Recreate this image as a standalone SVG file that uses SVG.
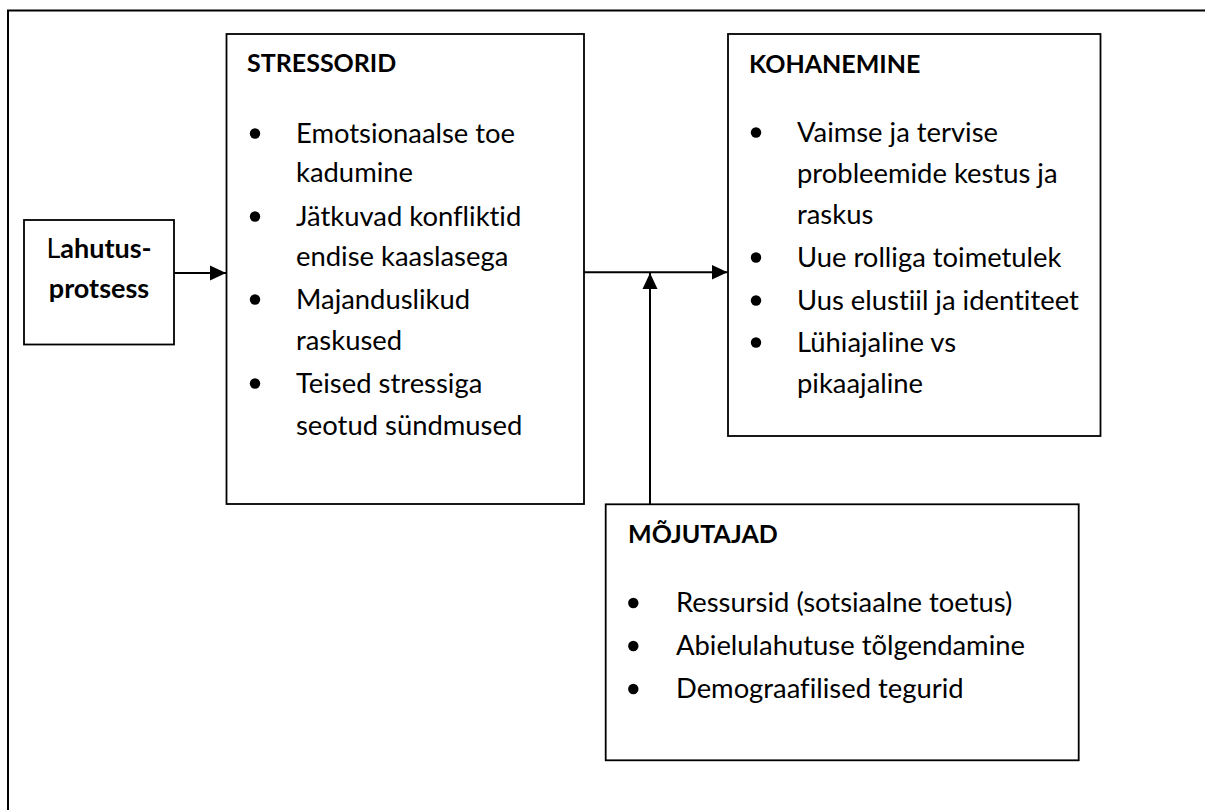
<svg xmlns="http://www.w3.org/2000/svg" width="1205" height="810" viewBox="0 0 1205 810">
<style>
  .frame { fill: none; stroke: #000; stroke-width: 2; }
  .box { fill: #fff; stroke: #000; stroke-width: 1.8; }
  text { font-family: Lato, "Open Sans", "Liberation Sans", sans-serif; fill: #000; font-variant-ligatures: none; font-feature-settings: "liga" 0, "clig" 0, "dlig" 0; }
  .t { font-size: 27.4px; }
  .h { font-size: 25px; font-weight: bold; }
  .lh { font-size: 27px; font-weight: bold; }
  .dot { fill: #000; }
  .line { fill: none; stroke: #000; stroke-width: 2; }
</style>
<defs>
  <marker id="arr" markerWidth="16" markerHeight="16" viewBox="0 0 16 16" refX="16" refY="8" orient="auto" markerUnits="userSpaceOnUse">
    <path d="M0,0.5 L16,8 L0,15.5 Z" fill="#000"/>
  </marker>
</defs>
<rect width="1205" height="810" fill="#fff"/>
<path class="frame" d="M8,810 L8,10.5 L1205,10.5"/>

<g id="lahutus">
  <rect class="box" x="24" y="220" width="150" height="124.5"/>
  <text class="lh" x="99" y="258" text-anchor="middle"><tspan font-weight="normal">L</tspan>ahutus-</text>
  <text class="lh" x="99" y="298" text-anchor="middle">protsess</text>
</g>

<g id="stressorid">
  <rect class="box" x="226.5" y="34" width="357.5" height="470"/>
  <text class="h" x="247" y="72">STRESSORID</text>
  <circle class="dot" cx="255" cy="133.5" r="5.2"/>
  <text class="t" x="296" y="143">Emotsionaalse toe</text>
  <text class="t" x="296" y="182">kadumine</text>
  <circle class="dot" cx="255" cy="216.5" r="5.2"/>
  <text class="t" x="296" y="226">Jätkuvad konfliktid</text>
  <text class="t" x="296" y="266">endise kaaslasega</text>
  <circle class="dot" cx="255" cy="299.5" r="5.2"/>
  <text class="t" x="296" y="309">Majanduslikud</text>
  <text class="t" x="296" y="350">raskused</text>
  <circle class="dot" cx="255" cy="383.5" r="5.2"/>
  <text class="t" x="296" y="393">Teised stressiga</text>
  <text class="t" x="296" y="435">seotud sündmused</text>
</g>

<g id="kohanemine">
  <rect class="box" x="728" y="34" width="372.5" height="402"/>
  <text class="h" x="749" y="73">KOHANEMINE</text>
  <circle class="dot" cx="756" cy="132.5" r="5.2"/>
  <text class="t" x="797" y="142">Vaimse ja tervise</text>
  <text class="t" x="797" y="183">probleemide kestus ja</text>
  <text class="t" x="797" y="224">raskus</text>
  <circle class="dot" cx="756" cy="257.5" r="5.2"/>
  <text class="t" x="797" y="267">Uue rolliga toimetulek</text>
  <circle class="dot" cx="756" cy="300.5" r="5.2"/>
  <text class="t" x="797" y="310">Uus elustiil ja identiteet</text>
  <circle class="dot" cx="756" cy="342.5" r="5.2"/>
  <text class="t" x="797" y="352">Lühiajaline vs</text>
  <text class="t" x="797" y="393">pikaajaline</text>
</g>

<g id="mojutajad">
  <rect class="box" x="605.7" y="504.3" width="473" height="256"/>
  <text class="h" x="628" y="543">MÕJUTAJAD</text>
  <circle class="dot" cx="633.3" cy="603" r="5.2"/>
  <text class="t" x="676" y="612">Ressursid (sotsiaalne toetus)</text>
  <circle class="dot" cx="633.3" cy="646" r="5.2"/>
  <text class="t" x="676" y="655">Abielulahutuse tõlgendamine</text>
  <circle class="dot" cx="633.3" cy="689" r="5.2"/>
  <text class="t" x="676" y="698">Demograafilised tegurid</text>
</g>

<g id="connectors">
  <line class="line" x1="174" y1="273" x2="226" y2="273" marker-end="url(#arr)"/>
  <line class="line" x1="584" y1="272.3" x2="727.5" y2="272.3" marker-end="url(#arr)"/>
  <line class="line" x1="650" y1="504" x2="650" y2="273" marker-end="url(#arr)"/>
</g>
</svg>
